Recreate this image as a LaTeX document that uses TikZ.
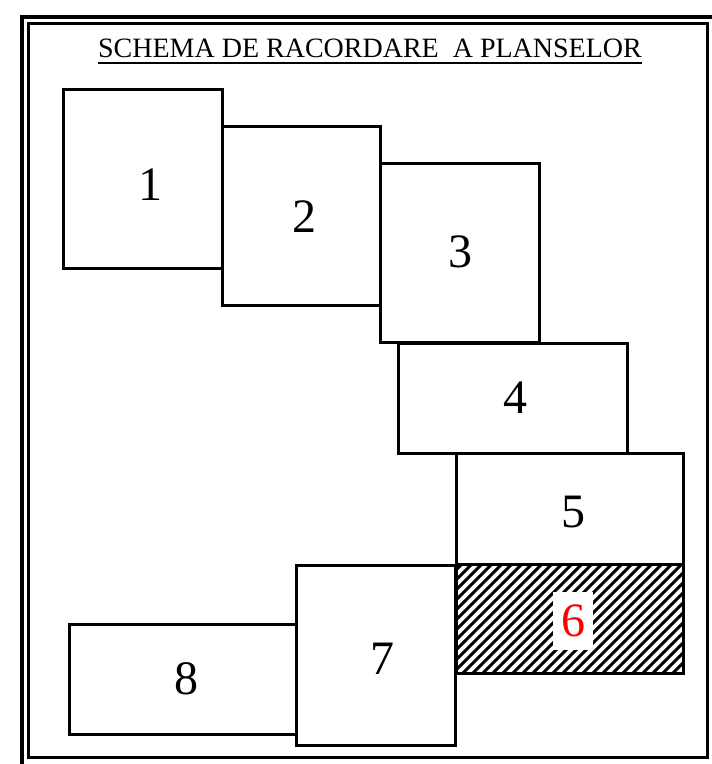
\documentclass[tikz,border=0pt]{standalone}
\usepackage{fontspec}
\setmainfont{Liberation Serif}
\begin{document}
\begin{tikzpicture}[x=1pt,y=-1pt,
  sheet/.style={draw=black, line width=3pt, fill=none, anchor=north west, inner sep=0pt, outer sep=0pt},
  num/.style={font=\fontsize{48}{48}\selectfont, inner sep=0pt},
  hatchline/.style={line width=3pt}]
\useasboundingbox (0,0) rectangle (712,764);
\fill[white] (0,0) rectangle (712,764);
% frame
\draw[line width=4pt] (22,17) rectangle (716,768);
\draw[line width=3pt] (28.5,23.5) rectangle (707,757);
% title
\node[font=\fontsize{28}{28}\selectfont, inner sep=0pt, anchor=base] (title) at (370,57) {SCHEMA DE RACORDARE\ \ A PLANSELOR};
\draw[line width=2.2pt] (title.base west |- 0,63) -- (title.base east |- 0,63);
% sheets
\node[sheet, minimum width=159pt, minimum height=179pt] (s1) at (63,89) {};
\node[sheet, minimum width=158pt, minimum height=179pt] (s2) at (222,126) {};
\node[sheet, minimum width=159pt, minimum height=179pt] (s3) at (380,163) {};
\node[sheet, minimum width=229pt, minimum height=110pt] (s4) at (398,343) {};
\node[sheet, minimum width=227pt, minimum height=111pt] (s5) at (456,453) {};
\begin{scope}
\clip (456,564) rectangle (683,673);
\foreach \k in {0,...,36}{
  \draw[hatchline] (456-120+\k*10,690) -- ++(140,-140);
}
\end{scope}
\node[sheet, minimum width=227pt, minimum height=109pt] (s6) at (456,564) {};
\node[sheet, minimum width=159pt, minimum height=180pt] (s7) at (296,565) {};
\node[sheet, minimum width=227pt, minimum height=110pt] (s8) at (69,624) {};
% labels
\node[num] at (150,185) {1};
\node[num] at (304,217) {2};
\node[num] at (460,252) {3};
\node[num] at (515,398) {4};
\node[num] at (573,512) {5};
\node[num, text=red, fill=white, inner xsep=8pt, inner ysep=13pt] at (573,621) {6};
\node[num] at (382,659) {7};
\node[num] at (186,679) {8};
\end{tikzpicture}
\end{document}
